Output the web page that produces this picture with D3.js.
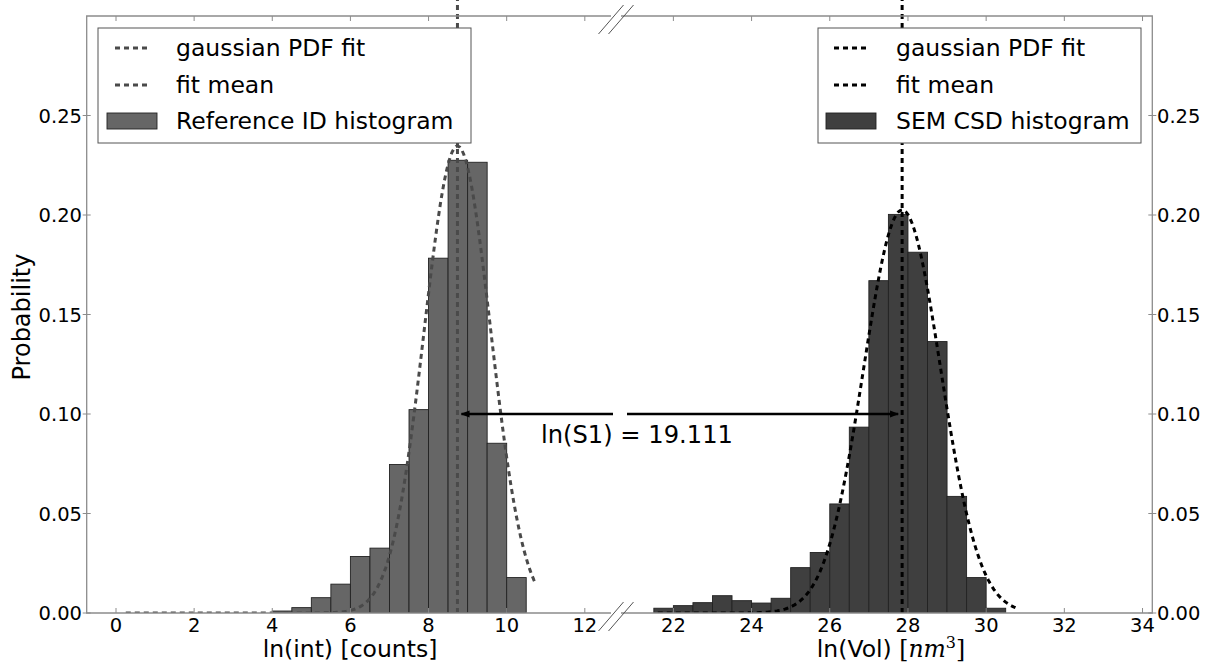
<!DOCTYPE html>
<html>
<head>
<meta charset="utf-8">
<script src="https://cdn.jsdelivr.net/npm/d3@7"></script>
<style>
  body { margin: 0; background: #fff; }
  svg { display: block; }
  text { font-family: "DejaVu Sans", sans-serif; fill: #000; }
</style>
</head>
<body>
<svg id="chart" width="1209" height="668"></svg>
<script>
// ---- data ---------------------------------------------------------------
const binWidth = 0.5;

// Reference ID histogram: left edge of each bin in ln(int) and its probability
const refBinStart = [4.0, 4.5, 5.0, 5.5, 6.0, 6.5, 7.0, 7.5, 8.0, 8.5, 9.0, 9.5, 10.0];
const refProb     = [0.001, 0.0027, 0.0077, 0.0145, 0.0284, 0.0326, 0.0746, 0.1022, 0.1783, 0.2275, 0.2265, 0.0853, 0.0178];

// SEM CSD histogram: left edge of each bin in ln(Vol) and its probability
const semBinStart = [21.5, 22.0, 22.5, 23.0, 23.5, 24.0, 24.5, 25.0, 25.5, 26.0, 26.5, 27.0, 27.5, 28.0, 28.5, 29.0, 29.5, 30.0];
const semProb     = [0.0024, 0.0037, 0.0052, 0.0087, 0.0062, 0.005, 0.0074, 0.0228, 0.0304, 0.0548, 0.0934, 0.167, 0.2003, 0.1813, 0.1364, 0.0586, 0.0178, 0.0024];

// Gaussian fits: mean, sigma; the curve spans the data range
const lnS1 = 19.111;
const refMean = 8.74;
const semMean = refMean + lnS1;
const refSigma = 0.85;
const semSigma = 0.985;
const refFitRange = [0.25, 10.75];
const semFitRange = [21.6, 30.75];

// axis ticks
const leftTicks  = [0, 2, 4, 6, 8, 10, 12];
const rightTicks = [22, 24, 26, 28, 30, 32, 34];
const yTicks     = [0, 0.05, 0.10, 0.15, 0.20, 0.25];

// ---- layout -------------------------------------------------------------
const svg = d3.select("#chart");
const plotTop = 16, plotBottom = 613;
const leftBox  = [86.7, 611];
const rightBox = [621, 1152.3];

const xL = d3.scaleLinear().domain([-0.75, 12.67]).range(leftBox);
const xR = d3.scaleLinear().domain([20.66, 34.25]).range(rightBox);
const y  = d3.scaleLinear().domain([0, 0.30]).range([plotBottom, plotTop]);

const refFill = "#666666", semFill = "#3f3f3f";
const refLine = "#4a4a4a", semLine = "#000000";
const spineColor = "#8c8c8c";
const dash = "5,4";

// gaussian scaled to probability per bin
function fitCurve(mean, sigma, range) {
  const amp = binWidth / (sigma * Math.sqrt(2 * Math.PI));
  const xs = d3.range(range[0], range[1] + 1e-9, 0.05);
  return xs.map(v => [v, amp * Math.exp(-0.5 * ((v - mean) / sigma) ** 2)]);
}

function panel(x, starts, probs, fill, lineColor, mean, sigma, range, clipId, box) {
  svg.append("clipPath").attr("id", clipId)
    .append("rect").attr("x", box[0]).attr("y", plotTop)
    .attr("width", box[1] - box[0]).attr("height", plotBottom - plotTop);

  const g = svg.append("g");
  const plot = g.append("g").attr("clip-path", `url(#${clipId})`);

  plot.selectAll("rect.bar").data(starts).join("rect")
    .attr("class", "bar")
    .attr("x", d => x(d))
    .attr("width", d => x(d + binWidth) - x(d))
    .attr("y", (d, i) => y(probs[i]))
    .attr("height", (d, i) => y(0) - y(probs[i]))
    .attr("fill", fill)
    .attr("stroke", "#222")
    .attr("stroke-width", 0.9);

  const line = d3.line().x(d => x(d[0])).y(d => y(d[1]));
  plot.append("path")
    .attr("d", line(fitCurve(mean, sigma, range)))
    .attr("fill", "none")
    .attr("stroke", lineColor)
    .attr("stroke-width", 3)
    .attr("stroke-dasharray", dash);

  // fit mean marker, running up past the top of the frame
  g.append("line")
    .attr("x1", x(mean)).attr("x2", x(mean))
    .attr("y1", y(0)).attr("y2", 0)
    .attr("stroke", lineColor)
    .attr("stroke-width", 3)
    .attr("stroke-dasharray", dash);
  return g;
}

panel(xL, refBinStart, refProb, refFill, refLine, refMean, refSigma, refFitRange, "clipL", leftBox);
panel(xR, semBinStart, semProb, semFill, semLine, semMean, semSigma, semFitRange, "clipR", rightBox);

// ---- frames -------------------------------------------------------------
const frame = svg.append("g").attr("stroke", spineColor).attr("stroke-width", 1.3).attr("fill", "none");
// left panel: left, top, bottom spines
frame.append("path").attr("d", `M${leftBox[1]},${plotTop}H${leftBox[0]}V${plotBottom}H${leftBox[1]}`);
// right panel: top, right, bottom spines
frame.append("path").attr("d", `M${rightBox[0]},${plotTop}H${rightBox[1]}V${plotBottom}H${rightBox[0]}`);

// x ticks (inward, top and bottom) and labels
function xAxis(x, ticks) {
  const g = svg.append("g");
  g.selectAll("line.tb").data(ticks).join("line")
    .attr("x1", d => x(d)).attr("x2", d => x(d))
    .attr("y1", plotBottom).attr("y2", plotBottom - 5)
    .attr("stroke", spineColor).attr("stroke-width", 1);
  g.selectAll("line.tt").data(ticks).join("line")
    .attr("x1", d => x(d)).attr("x2", d => x(d))
    .attr("y1", plotTop).attr("y2", plotTop + 5)
    .attr("stroke", spineColor).attr("stroke-width", 1);
  g.selectAll("text").data(ticks).join("text")
    .attr("x", d => x(d)).attr("y", 632)
    .attr("text-anchor", "middle")
    .style("font-size", "19.5px")
    .text(d => d);
}
xAxis(xL, leftTicks);
xAxis(xR, rightTicks);

// y ticks: left panel on its left spine, right panel on its right spine
const yl = svg.append("g");
yl.selectAll("line").data(yTicks).join("line")
  .attr("x1", leftBox[0] - 4).attr("x2", leftBox[0] + 4)
  .attr("y1", d => y(d)).attr("y2", d => y(d))
  .attr("stroke", spineColor).attr("stroke-width", 1);
yl.selectAll("text").data(yTicks).join("text")
  .attr("x", 82).attr("y", d => y(d)).attr("dy", "0.36em")
  .attr("text-anchor", "end")
  .style("font-size", "19.5px")
  .text(d => d3.format(".2f")(d));

const yr = svg.append("g");
yr.selectAll("line").data(yTicks).join("line")
  .attr("x1", rightBox[1] - 4).attr("x2", rightBox[1] + 4)
  .attr("y1", d => y(d)).attr("y2", d => y(d))
  .attr("stroke", spineColor).attr("stroke-width", 1);
yr.selectAll("text").data(yTicks).join("text")
  .attr("x", 1157).attr("y", d => y(d)).attr("dy", "0.36em")
  .attr("text-anchor", "start")
  .style("font-size", "19.5px")
  .text(d => d3.format(".2f")(d));

// axis-break diagonals at the inner corners of both panels
const brk = svg.append("g").attr("stroke", "#555").attr("stroke-width", 1);
[leftBox[1], rightBox[0]].forEach(px => {
  [plotTop, plotBottom].forEach(py => {
    brk.append("line")
      .attr("x1", px - 12.5).attr("y1", py + 18)
      .attr("x2", px + 12.5).attr("y2", py - 11);
  });
});

// ---- axis labels --------------------------------------------------------
svg.append("text")
  .attr("x", 350).attr("y", 657)
  .attr("text-anchor", "middle")
  .style("font-size", "23.5px")
  .text("ln(int) [counts]");

const rl = svg.append("text")
  .attr("x", 891).attr("y", 657)
  .attr("text-anchor", "middle")
  .style("font-size", "23.5px");
rl.append("tspan").text("ln(Vol) ");
rl.append("tspan").style("font-family", "'DejaVu Serif', serif").text("[");
rl.append("tspan").style("font-family", "'DejaVu Serif', serif").style("font-style", "italic").text("nm");
rl.append("tspan").style("font-family", "'DejaVu Serif', serif").style("font-size", "16px").attr("dy", -9).text("3");
rl.append("tspan").style("font-family", "'DejaVu Serif', serif").attr("dy", 9).text("]");

svg.append("text")
  .attr("transform", "translate(30,317) rotate(-90)")
  .attr("text-anchor", "middle")
  .style("font-size", "24px")
  .text("Probability");

// ---- annotation: shift between the two fit means -------------------------
const arrowY = y(0.10);
const defs = svg.append("defs");
defs.append("marker").attr("id", "head")
  .attr("viewBox", "0 0 10 10").attr("refX", 9).attr("refY", 5)
  .attr("markerWidth", 9).attr("markerHeight", 9)
  .attr("markerUnits", "userSpaceOnUse")
  .attr("orient", "auto")
  .append("path").attr("d", "M0,1L10,5L0,9Z").attr("fill", "#000");

svg.append("line")
  .attr("x1", 613).attr("y1", arrowY)
  .attr("x2", xL(refMean) + 4).attr("y2", arrowY)
  .attr("stroke", "#000").attr("stroke-width", 2.5)
  .attr("marker-end", "url(#head)");
svg.append("line")
  .attr("x1", 627).attr("y1", arrowY)
  .attr("x2", xR(semMean) - 4).attr("y2", arrowY)
  .attr("stroke", "#000").attr("stroke-width", 2.5)
  .attr("marker-end", "url(#head)");

svg.append("text")
  .attr("x", 541).attr("y", 443)
  .style("font-size", "24.2px")
  .text(`ln(S1) = ${lnS1}`);

// ---- legends ------------------------------------------------------------
function legend(x0, x1, lineColor, fill, label, handleX, textX) {
  const g = svg.append("g");
  g.append("rect").attr("x", x0).attr("y", 28).attr("width", x1 - x0).attr("height", 115)
    .attr("fill", "#fff").attr("stroke", "#555").attr("stroke-width", 1);
  const rows = [
    { t: "gaussian PDF fit", cy: 48 },
    { t: "fit mean", cy: 85 }
  ];
  rows.forEach(r => {
    g.append("line")
      .attr("x1", handleX[0]).attr("x2", handleX[1])
      .attr("y1", r.cy).attr("y2", r.cy)
      .attr("stroke", lineColor).attr("stroke-width", 3)
      .attr("stroke-dasharray", "5,4");
    g.append("text").attr("x", textX).attr("y", r.cy + 8)
      .style("font-size", "23.5px").text(r.t);
  });
  g.append("rect").attr("x", handleX[0] - 8).attr("y", 113)
    .attr("width", handleX[1] - handleX[0] + 16).attr("height", 16)
    .attr("fill", fill).attr("stroke", "#222").attr("stroke-width", 0.9);
  g.append("text").attr("x", textX).attr("y", 121 + 8)
    .style("font-size", "23.5px").text(label);
}
legend(98, 471, refLine, refFill, "Reference ID histogram", [115, 149], 176);
legend(818, 1141, semLine, semFill, "SEM CSD histogram", [834, 868], 896);
</script>
</body>
</html>
